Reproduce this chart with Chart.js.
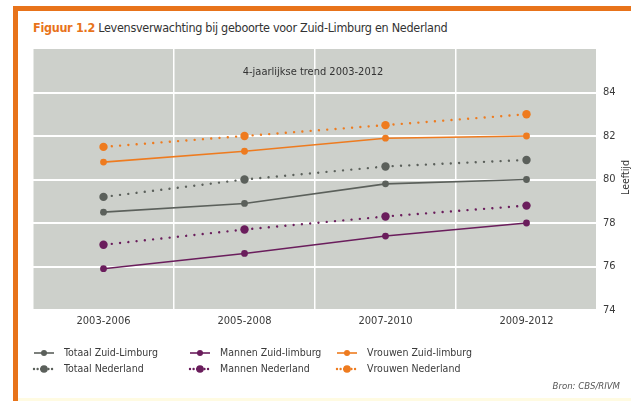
<!DOCTYPE html>
<html>
<head>
<meta charset="utf-8">
<script src="https://cdn.jsdelivr.net/npm/chart.js@4.4.0/dist/chart.umd.min.js"></script>
<style>
  html, body { margin: 0; padding: 0; background: #fff; }
  body { width: 631px; height: 401px; position: relative; overflow: hidden;
         font-family: "Liberation Sans Narrow", "DejaVu Sans Condensed", "Roboto", sans-serif; }
  #frame { position: absolute; left: 13px; top: 6px; right: 0; bottom: 0;
           border-top: 5px solid #e8731a; border-left: 5px solid #e8731a; }
  #strip { position: absolute; left: 18px; right: 0; bottom: 0; height: 3px; background: #fffbe2; }
  #kop { position: absolute; left: 33px; top: 20px; font-size: 12.5px; letter-spacing: -0.3px; color: #333; white-space: nowrap; }
  #kop b { color: #e8731a; }
  #wrap { position: absolute; left: 0; top: 0; width: 631px; height: 401px; }
</style>
</head>
<body>
<div id="frame"></div>
<div id="strip"></div>
<div id="kop"><b>Figuur 1.2</b> Levensverwachting bij geboorte voor Zuid-Limburg en Nederland</div>
<div id="wrap"><canvas id="grafiek" width="631" height="401"></canvas></div>
<script>
// periodes (x-as)
var periodes = ['2003-2006', '2005-2008', '2007-2010', '2009-2012'];
var yTicks = [74, 76, 78, 80, 82, 84];

var totaalZL   = [78.5, 78.9, 79.8, 80.0];
var mannenZL   = [75.9, 76.6, 77.4, 78.0];
var vrouwenZL  = [80.8, 81.3, 81.9, 82.0];
var totaalNL   = [79.2, 80.0, 80.6, 80.9];
var mannenNL   = [77.0, 77.7, 78.3, 78.8];
var vrouwenNL  = [81.5, 82.0, 82.5, 83.0];

var subtitel = '4-jaarlijkse trend 2003-2012';
var asTitel = 'Leeftijd';
var bron = 'Bron: CBS/RIVM';

var GRIJS = '#5b605b', PAARS = '#6a1d5c', ORANJE = '#ee7b1f';
var FONT = '"Liberation Sans Narrow", "DejaVu Sans Condensed", Roboto, sans-serif';

function lijn(label, data, kleur, gestippeld) {
    return {
        label: label,
        data: data,
        borderColor: kleur,
        backgroundColor: kleur,
        pointBackgroundColor: kleur,
        pointBorderWidth: 0,
        pointRadius: gestippeld ? 4.2 : 3.4,
        borderWidth: gestippeld ? 2.4 : 1.6,
        borderDash: gestippeld ? [0.01, 8.3] : [],
        borderCapStyle: gestippeld ? 'round' : 'butt',
        tension: 0,
        fill: false
    };
}

var datasets = [
    lijn('Totaal Zuid-Limburg', totaalZL, GRIJS, false),
    lijn('Mannen Zuid-limburg', mannenZL, PAARS, false),
    lijn('Vrouwen Zuid-limburg', vrouwenZL, ORANJE, false),
    lijn('Totaal Nederland', totaalNL, GRIJS, true),
    lijn('Mannen Nederland', mannenNL, PAARS, true),
    lijn('Vrouwen Nederland', vrouwenNL, ORANJE, true)
];

// achtergrond van het plotvlak
var achtergrond = {
    id: 'achtergrond',
    beforeDraw: function (chart) {
        var a = chart.chartArea, ctx = chart.ctx;
        ctx.save();
        ctx.fillStyle = '#cdd0cb';
        ctx.fillRect(a.left, a.top, a.right - a.left, a.bottom - a.top);
        ctx.restore();
    }
};

// subtitel, astitel, legenda en bron
var teksten = {
    id: 'teksten',
    afterDraw: function (chart) {
        var a = chart.chartArea, ctx = chart.ctx;
        ctx.save();
        ctx.fillStyle = '#333';
        ctx.font = '11px ' + FONT;
        ctx.textAlign = 'center';
        ctx.textBaseline = 'middle';
        ctx.fillText(subtitel, (a.left + a.right) / 2 - 2, a.top + 23);

        ctx.save();
        ctx.translate(626, (a.top + a.bottom) / 2 - 2);
        ctx.rotate(-Math.PI / 2);
        ctx.font = '10.5px ' + FONT;
        ctx.fillText(asTitel, 0, 0);
        ctx.restore();

        // legenda: 3 kolommen x 2 rijen
        var kolX = [33, 189, 336];
        var rijY = [353, 369];
        chart.data.datasets.forEach(function (ds, i) {
            var x = kolX[i % 3], y = rijY[Math.floor(i / 3)];
            var stip = ds.borderDash.length > 0;
            ctx.save();
            ctx.strokeStyle = ds.borderColor;
            ctx.lineWidth = ds.borderWidth;
            ctx.lineCap = ds.borderCapStyle;
            ctx.setLineDash(stip ? [0.01, 3.6] : []);
            ctx.beginPath();
            ctx.moveTo(x + 1, y);
            ctx.lineTo(x + 21, y);
            ctx.stroke();
            ctx.fillStyle = ds.borderColor;
            ctx.beginPath();
            ctx.arc(x + 11, y, ds.pointRadius - 0.4, 0, Math.PI * 2);
            ctx.fill();
            ctx.restore();
            ctx.fillStyle = '#3a3a3a';
            ctx.font = '10.5px ' + FONT;
            ctx.textAlign = 'left';
            ctx.fillText(ds.label, x + 31, y);
        });

        ctx.fillStyle = '#555';
        ctx.font = 'italic 9.5px ' + FONT;
        ctx.textAlign = 'right';
        ctx.fillText(bron, 620, 387);
        ctx.restore();
    }
};

var ctx = document.getElementById('grafiek');
var chart = new Chart(ctx, {
    type: 'line',
    data: { labels: periodes, datasets: datasets },
    options: {
        responsive: false,
        animation: false,
        layout: { padding: { top: 49, left: 33, right: 0, bottom: 71 } },
        plugins: {
            legend: { display: false },
            tooltip: { enabled: false }
        },
        scales: {
            x: {
                offset: true,
                grid: { offset: true, color: '#ffffff', lineWidth: 1.5, drawTicks: false },
                border: { display: false },
                ticks: { color: '#3a3a3a', font: { family: FONT, size: 11 }, padding: 5 },
                afterFit: function (scale) { scale.height = 20; }
            },
            y: {
                position: 'right',
                min: 74,
                max: 86,
                afterBuildTicks: function (scale) {
                    scale.ticks = yTicks.concat([86]).map(function (v) { return { value: v }; });
                },
                grid: {
                    color: function (c) { return c.tick && c.tick.value === 86 ? 'rgba(0,0,0,0)' : '#ffffff'; },
                    lineWidth: 2,
                    drawTicks: false
                },
                border: { display: false },
                ticks: {
                    color: '#3a3a3a',
                    font: { family: FONT, size: 11 },
                    padding: 6,
                    callback: function (v) { return yTicks.indexOf(v) >= 0 ? v : ''; }
                },
                afterFit: function (scale) { scale.width = 34; }
            }
        }
    },
    plugins: [achtergrond, teksten]
});
</script>
</body>
</html>
